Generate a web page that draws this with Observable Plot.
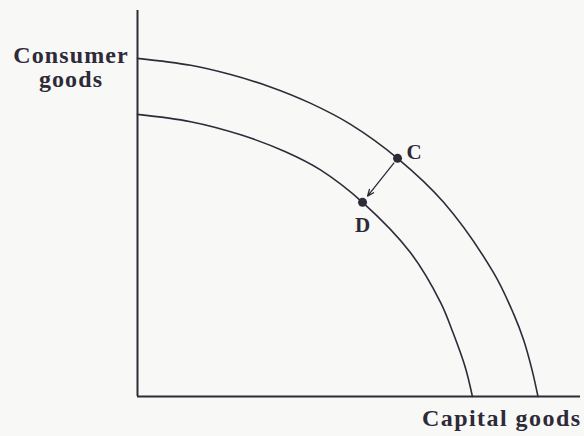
<!DOCTYPE html>
<html><head><meta charset="utf-8">
<script src="https://cdn.jsdelivr.net/npm/d3@7"></script>
<script src="https://cdn.jsdelivr.net/npm/@observablehq/plot@0.6"></script>
<style>body{margin:0;background:#f8f8f6}</style>
</head><body><div id="chart"></div>
<script>
// Outer production possibilities frontier
const outerX = [0, 12, 21, 30, 39, 48.1, 58.7, 69.1, 80.3, 84.9, 87.2, 89.1, 90.4];
const outerY = [87.6, 85.8, 83.4, 80.2, 76.0, 70.5, 61.7, 50.3, 32.2, 21.4, 14.5, 6.7, 0];
// Inner frontier
const innerX = [0, 12, 23.3, 33.4, 41.3, 50.8, 61.6, 68.4, 71.3, 74, 75.6];
const innerY = [73.1, 71.2, 67.8, 63.4, 58.7, 50.3, 37.3, 24.4, 16.3, 7.5, 0];
// Points
const pointNames = ["C", "D"];
const pointX = [58.7, 50.8];
const pointY = [61.7, 50.3];
// Axis labels
const yLabel = "Consumer\ngoods";
const xLabel = "Capital goods";

const outer = outerX.map((x, i) => ({x, y: outerY[i]}));
const inner = innerX.map((x, i) => ({x, y: innerY[i]}));
const pts = pointNames.map((name, i) => ({name, x: pointX[i], y: pointY[i]}));

const ink = "#2e2a38";
const font = "'Liberation Serif', 'Times New Roman', serif";

const chart = Plot.plot({
  width: 584,
  height: 436,
  marginLeft: 137,
  marginRight: 4,
  marginTop: 10,
  marginBottom: 40,
  x: {domain: [0, 100], axis: null},
  y: {domain: [0, 100], axis: null},
  style: {background: "#f8f8f6", fontFamily: font, color: ink},
  marks: [
    Plot.ruleX([0], {stroke: ink, strokeWidth: 2}),
    Plot.ruleY([0], {stroke: ink, strokeWidth: 2}),
    Plot.line(outer, {x: "x", y: "y", curve: "catmull-rom", stroke: ink, strokeWidth: 1.6}),
    Plot.line(inner, {x: "x", y: "y", curve: "catmull-rom", stroke: ink, strokeWidth: 1.6}),
    Plot.arrow([0], {
      x1: () => pts[0].x, y1: () => pts[0].y,
      x2: () => pts[1].x, y2: () => pts[1].y,
      insetStart: 6, insetEnd: 8, headLength: 8, headAngle: 45, stroke: ink, strokeWidth: 1.3
    }),
    Plot.dot(pts, {x: "x", y: "y", r: 4.5, fill: ink, stroke: null}),
    Plot.text([pts[0]], {x: "x", y: "y", text: "name", textAnchor: "start", dx: 9, dy: -6.5,
      fontSize: 21, fontWeight: "bold", fill: ink}),
    Plot.text([pts[1]], {x: "x", y: "y", text: "name", textAnchor: "middle", dx: 0, dy: 23,
      fontSize: 21, fontWeight: "bold", fill: ink}),
    Plot.text([yLabel], {frameAnchor: "top-left", text: d => d, textAnchor: "middle", lineAnchor: "top",
      dx: -66.5, dy: 35, lineHeight: 1, fontSize: 24, fontWeight: "bold", fill: ink}),
    Plot.text([xLabel], {frameAnchor: "bottom-right", text: d => d, textAnchor: "end", lineAnchor: "middle",
      dx: 1, dy: 21.5, fontSize: 24, fontWeight: "bold", fill: ink})
  ]
});
// widen the axis labels' letter spacing to match the reference typeface
d3.select(chart).selectAll("text")
  .filter(function () { const t = this.textContent; return t.length > 2; })
  .attr("letter-spacing", function () { return this.textContent.includes("Capital") ? "1.45px" : "1.1px"; });
document.getElementById("chart").appendChild(chart);
</script>
</body></html>
